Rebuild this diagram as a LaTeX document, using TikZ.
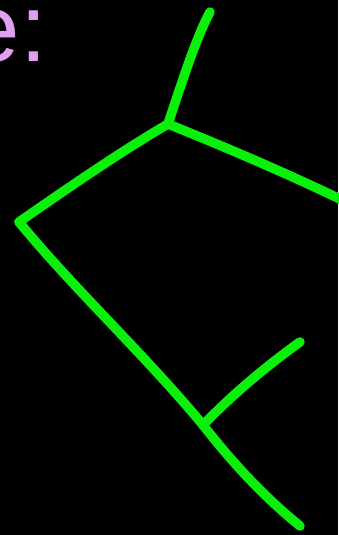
\documentclass[tikz,border=0pt]{standalone}
\usepackage{fontspec}
\setmainfont{Liberation Sans}
\definecolor{stroke}{RGB}{10,240,10}
\definecolor{lav}{RGB}{225,160,240}
\tikzset{stem/.style={draw=stroke,line width=9.5pt,line cap=round,line join=round}}
\begin{document}
\begin{tikzpicture}[x=1pt,y=-1pt]
\fill[black] (0,0) rectangle (338,535);
\useasboundingbox (0,0) rectangle (338,535);
\node[anchor=base east,inner sep=0pt,text=lav,font=\fontsize{96}{96}\selectfont] (lbl) at (47,62) {e:};
\coordinate (top) at (210,12);
\coordinate (A) at (168,124);
\coordinate (R) at (342,200);
\coordinate (B) at (19,222);
\coordinate (C) at (203,425);
\coordinate (D) at (300,342);
\coordinate (E) at (300,526);
\draw[stem] (top) .. controls (196,38) and (182,82) .. (A);
\draw[stem] (A) .. controls (225,147) and (286,173) .. (R);
\draw[stem] (A) .. controls (120,152) and (65,190) .. (B);
\draw[stem] (B) .. controls (75,290) and (145,355) .. (C);
\draw[stem] (C) .. controls (235,392) and (268,365) .. (D);
\draw[stem] (C) .. controls (232,462) and (262,495) .. (E);
\end{tikzpicture}
\end{document}
